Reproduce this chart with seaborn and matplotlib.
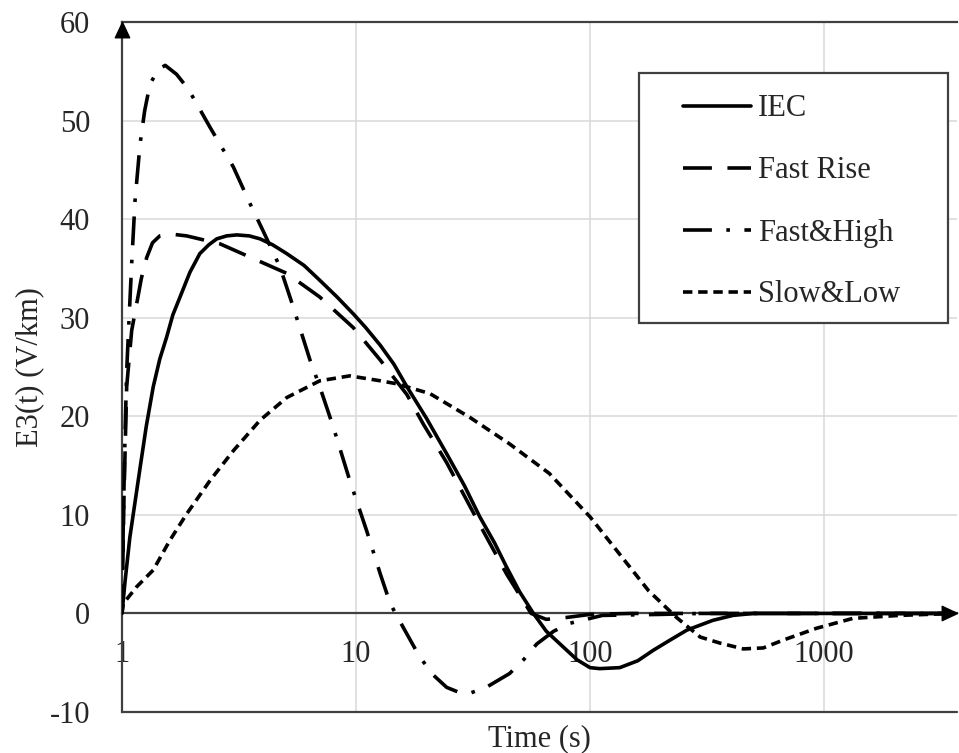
import numpy as np
import pandas as pd
import matplotlib
matplotlib.use("Agg")
import matplotlib.pyplot as plt
import seaborn as sns
from matplotlib.patches import Rectangle
from matplotlib.path import Path
from matplotlib.ticker import NullLocator

# ---------------- data ----------------
series_names = ["IEC", "Fast Rise", "Fast&High", "Slow&Low"]

iec_t = [1.0, 1.03, 1.08, 1.19, 1.27, 1.36, 1.45, 1.55, 1.65, 1.77, 1.95, 2.15, 2.35,
         2.54, 2.8, 3.09, 3.5, 3.89, 4.4, 5.06, 6.0, 7.0, 8.3, 9.73, 11.0, 12.7, 14.5,
         16.5, 20.0, 24.4, 29.0, 33.8, 39.0, 44.0, 50.0, 57.3, 65.0, 76.8, 88.0,
         100.0, 110.0, 134.0, 160.0, 186.0, 220.0, 259.0, 335.0, 408.0, 500.0,
         1000.0, 2000.0, 3600.0]
iec_e = [0.0, 3.2, 7.7, 14.5, 19.0, 23.0, 25.8, 28.0, 30.3, 32.1, 34.6, 36.5, 37.4,
         38.0, 38.3, 38.4, 38.3, 38.0, 37.4, 36.5, 35.3, 33.8, 32.1, 30.4, 29.0, 27.2,
         25.3, 23.0, 19.8, 16.2, 13.0, 9.8, 7.2, 4.7, 2.2, 0.0, -1.8, -3.4, -4.7,
         -5.5, -5.6, -5.5, -4.8, -3.75, -2.7, -1.7, -0.7, -0.2, 0.0,
         0.0, 0.0, 0.0]

fast_rise_t = [1.0, 1.02, 1.047, 1.10, 1.155, 1.21, 1.275, 1.35, 1.45, 1.6, 1.89,
               2.62, 3.64, 5.06, 7.0, 9.73, 12.7, 16.5, 19.4, 24.4, 33.8, 44.0,
               56.0, 65.0, 80.0, 100.0, 150.0, 1000.0, 3600.0]
fast_rise_e = [0.0, 12.0, 23.0, 28.7, 31.4, 34.0, 36.1, 37.6, 38.3, 38.5, 38.3,
               37.5, 36.0, 34.5, 32.1, 29.0, 25.7, 22.2, 19.2, 15.3, 9.0, 4.0,
               0.0, -0.6, -0.4, -0.1, 0.0, 0.0, 0.0]

fast_high_t = [1.0, 1.013, 1.03, 1.047, 1.075, 1.10, 1.137, 1.194, 1.25, 1.317, 1.43,
               1.53, 1.71, 1.92, 2.38, 2.99, 3.52, 4.01, 4.74, 5.39, 6.36, 7.0, 8.0,
               9.4, 11.1, 12.7, 14.0, 15.9, 18.7, 21.5, 24.4, 27.5, 30.6, 36.0, 45.3,
               52.0, 59.2, 70.0, 82.0, 113.0, 200.0, 300.0, 1000.0, 3600.0]
fast_high_e = [0.0, 9.4, 17.9, 24.6, 30.5, 35.5, 41.9, 47.6, 51.0, 53.7, 55.2,
               55.6, 54.7, 53.2, 49.3, 45.3, 41.6, 38.8, 35.1, 31.1, 25.7, 23.0, 18.9,
               13.5, 8.4, 4.0, 1.0, -1.4, -4.4, -6.3, -7.5, -8.0, -8.1, -7.5, -6.1,
               -4.7, -3.1, -1.8, -1.0, -0.2, -0.1, 0.0, 0.0, 0.0]

slow_low_t = [1.0, 1.013, 1.155, 1.36, 1.60, 1.89, 2.38, 2.99, 3.89, 5.06, 7.0, 9.4,
              12.7, 14.9, 20.7, 30.6, 45.3, 67.0, 100.0, 148.0, 178.0, 234.0, 296.0,
              358.0, 452.0, 550.0, 670.0, 930.0, 1330.0, 2100.0, 3600.0]
slow_low_e = [0.0, 1.0, 2.7, 4.4, 7.4, 10.1, 13.5, 16.5, 19.6, 21.9, 23.6, 24.1,
              23.6, 23.3, 22.3, 19.9, 17.2, 14.2, 9.8, 4.7, 2.3, -0.4, -2.4,
              -3.0, -3.6, -3.5, -2.7, -1.5, -0.5, -0.2, 0.0]

x_ticks = [1, 10, 100, 1000]
x_tick_labels = ["1", "10", "100", "1000"]
y_ticks = [-10, 0, 10, 20, 30, 40, 50, 60]
y_tick_labels = ["-10", "0", "10", "20", "30", "40", "50", "60"]
x_label = "Time (s)"
y_label = "E3(t) (V/km)"

# ---------------- styling ----------------
sns.set_theme(style="white")
plt.rcParams["font.family"] = ["Liberation Serif", "DejaVu Serif"]
plt.rcParams["font.size"] = 22

AX_COL = "#404040"
TXT_COL = "#262626"
FS = 22

fig = plt.figure(figsize=(9.59, 7.53), dpi=100)
ax = fig.add_axes([122 / 959, 1 - 712 / 753, 835 / 959, 690 / 753])
ax.set_xscale("log")

line_styles = {
    "IEC": "-",
    "Fast Rise": (0, (8, 4.3)),
    "Fast&High": (0, (8, 4, 1, 4)),
    "Slow&Low": (0, (2.6, 1.6)),
}

all_series = [
    ("IEC", iec_t, iec_e),
    ("Fast Rise", fast_rise_t, fast_rise_e),
    ("Fast&High", fast_high_t, fast_high_e),
    ("Slow&Low", slow_low_t, slow_low_e),
]

for name, t, e in all_series:
    df = pd.DataFrame({"t": t, "E": e})
    sns.lineplot(data=df, x="t", y="E", ax=ax, color="black", lw=2.6,
                 linestyle=line_styles[name], label=name, estimator=None,
                 sort=True, zorder=3)

ax.set_xlim(1, 3700)
ax.set_ylim(-10, 60)

ax.set_xticks(x_ticks)
ax.set_xticklabels(x_tick_labels)
ax.xaxis.set_minor_locator(NullLocator())
ax.set_yticks(y_ticks)
ax.set_yticklabels(y_tick_labels)
ax.tick_params(axis="x", length=0, pad=19, labelsize=FS, labelcolor=TXT_COL)
ax.tick_params(axis="y", length=0, pad=23, labelsize=FS, labelcolor=TXT_COL)

ax.grid(True, which="major", color="#d9d9d9", lw=1.1)
ax.set_axisbelow(True)

# frame / axes lines
ax.spines["right"].set_visible(False)
for s in ["left", "top", "bottom"]:
    ax.spines[s].set_color(AX_COL)
    ax.spines[s].set_linewidth(1.6)
ax.spines["bottom"].set_position(("data", 0))
ax.axhline(-10, color=AX_COL, lw=1.6, clip_on=False, zorder=2.5)

# arrow heads
up = Path([(0, 0), (-0.47, -1), (0.47, -1), (0, 0)],
          [Path.MOVETO, Path.LINETO, Path.LINETO, Path.CLOSEPOLY])
right = Path([(0, 0), (-1, 0.47), (-1, -0.47), (0, 0)],
             [Path.MOVETO, Path.LINETO, Path.LINETO, Path.CLOSEPOLY])
ax.plot([0], [1], marker=up, markersize=22, color="black", lw=0,
        transform=ax.transAxes, clip_on=False, zorder=6)
ax.plot([1], [0], marker=right, markersize=22, color="black", lw=0,
        transform=ax.get_yaxis_transform(), clip_on=False, zorder=6)

# labels
ax.set_ylabel(y_label, fontsize=FS, color=TXT_COL, labelpad=4)
ax.set_xlabel(x_label, fontsize=FS, color=TXT_COL)
ax.xaxis.set_label_coords(0.5, -0.017)

# legend
handles, labels = ax.get_legend_handles_labels()
leg = ax.legend(handles, labels, loc="center left",
                bbox_to_anchor=(683 / 959, 1 - 202 / 753),
                bbox_transform=fig.transFigure, frameon=False,
                borderpad=0, borderaxespad=0, handlelength=2.23,
                handletextpad=0.22, labelspacing=1.08, fontsize=FS)
for txt in leg.get_texts():
    txt.set_color(TXT_COL)
leg.set_zorder(5)

legend_box = Rectangle((639 / 959, 1 - 323 / 753), 309 / 959, 250 / 753,
                       transform=fig.transFigure, facecolor="white",
                       edgecolor=AX_COL, lw=1.6, zorder=4)
ax.add_artist(legend_box)

fig.savefig("out.png", dpi=100)
